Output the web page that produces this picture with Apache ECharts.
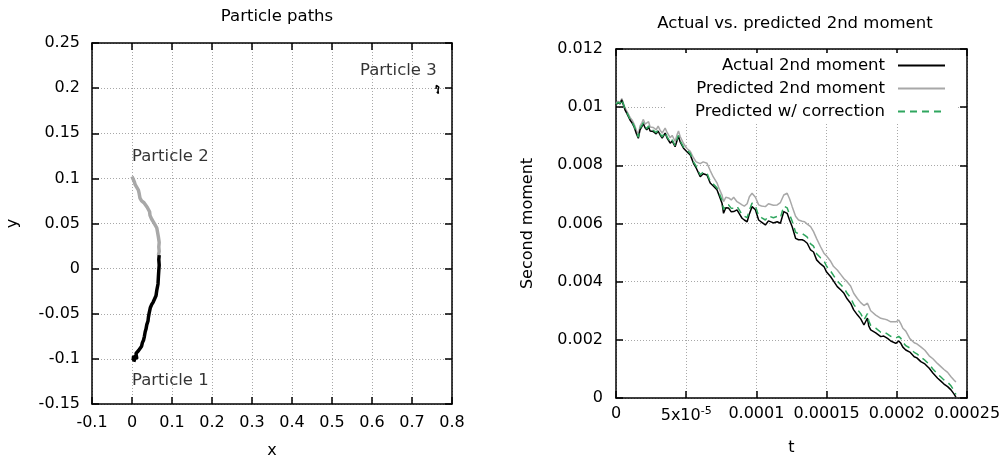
<!DOCTYPE html>
<html>
<head>
<meta charset="utf-8">
<script src="https://cdn.jsdelivr.net/npm/echarts@6/dist/echarts.min.js"></script>
<style>
html,body{margin:0;padding:0;background:#fff;}
#main{width:1007px;height:460px;}
</style>
</head>
<body>
<div id="main"></div>
<script>
// particle paths (left)
var p1x = [0.010,0.003,0.004,0.002,0.008,0.012,0.010,0.016,0.020,0.024,0.026,0.029,0.031,0.033,0.035,0.037,0.040,0.041,0.043,0.046,0.049,0.053,0.057,0.060,0.062,0.065,0.066,0.067,0.068,0.067,0.068];
var p1y = [-0.102,-0.101,-0.097,-0.099,-0.096,-0.100,-0.094,-0.091,-0.090,-0.086,-0.082,-0.079,-0.075,-0.070,-0.067,-0.062,-0.058,-0.054,-0.049,-0.043,-0.040,-0.037,-0.035,-0.030,-0.024,-0.017,-0.009,-0.002,0.004,0.010,0.015];
var p2x = [0.000,0.003,0.006,0.008,0.012,0.016,0.018,0.020,0.024,0.030,0.033,0.038,0.041,0.044,0.045,0.049,0.053,0.057,0.062,0.064,0.066,0.068,0.067,0.068,0.066];
var p2y = [0.102,0.099,0.096,0.093,0.090,0.087,0.083,0.078,0.075,0.073,0.071,0.068,0.066,0.063,0.059,0.055,0.052,0.049,0.045,0.040,0.035,0.029,0.024,0.019,0.015];
var p3x = [0.760,0.763,0.761,0.765,0.767,0.765,0.769,0.766,0.762];
var p3y = [0.199,0.197,0.203,0.205,0.201,0.198,0.196,0.194,0.196];
var labelNames = ['Particle 1','Particle 2','Particle 3'];
var labelX = [0.0, 0.0, 0.57];
var labelY = [-0.1246, 0.1237, 0.219];

// second moment (right), t in units of 1e-6
var tUs = [0,1.4,2.9,4.1,5.2,6.4,7.9,10,11.4,12.9,
  14.6,15.9,17.1,18.4,19.5,20.7,21.9,23.2,24.3,26.6,
  28.6,30,31.4,32.9,35,36.4,38.6,40,42.1,43.6,
  44.5,45.7,48.1,50.5,52.9,55.2,57.1,60,62.1,64.8,
  67.1,69.3,71.9,73.6,75.5,76.6,78.2,80.2,82.1,83.8,
  86.2,87.9,89.8,91.4,93.4,95,96.9,99.3,101.6,103.6,
  106.4,108.6,110,112.1,114.8,117.1,119.5,121.9,123.6,125.5,
  127.9,130,132.6,134.3,136.2,138.6,140.7,142.9,145.7,148.1,
  150,152.9,155,157.6,160,162.4,164.6,167.1,169.3,171.9,
  174.3,176.6,179.1,180,181.4,185,188.6,190.7,193.4,195.7,
  199.3,201.4,202.9,204.3,206.4,209.3,212.4,214.3,217.1,220,
  223.1,225.7,229.1,231.4,233.6,236.2,238.6,240.7,242.1];
var actual = [0.01008,0.01015,0.01011,0.01025,0.01022,0.00991,0.00977,0.00956,0.00946,0.00932,
  0.00908,0.00893,0.00922,0.00933,0.00943,0.00929,0.00922,0.00932,0.00918,0.00916,
  0.00908,0.00918,0.00905,0.00894,0.00911,0.00894,0.00876,0.00884,0.00864,0.00887,
  0.00899,0.00881,0.00859,0.00847,0.00836,0.00807,0.00791,0.00761,0.00771,0.00767,
  0.00739,0.00729,0.00716,0.00695,0.0067,0.00635,0.00654,0.00653,0.0064,0.00641,
  0.00647,0.00633,0.00618,0.00612,0.00606,0.00633,0.00658,0.00647,0.00612,0.00605,
  0.00595,0.00609,0.00606,0.00602,0.00606,0.00601,0.00641,0.00635,0.00612,0.00589,
  0.00549,0.00544,0.00544,0.0054,0.00532,0.00509,0.00502,0.00475,0.00461,0.00452,
  0.00433,0.00417,0.00402,0.00383,0.00372,0.0036,0.00341,0.00326,0.00303,0.00286,
  0.00272,0.00251,0.00275,0.00248,0.00234,0.00224,0.00211,0.00213,0.00205,0.00196,
  0.00188,0.00196,0.00188,0.00175,0.00165,0.00158,0.00142,0.00138,0.00125,0.00117,
  0.00102,0.00086,0.00068,0.00058,0.00048,0.00039,0.00028,0.00014,0.00003];
var predicted = [0.01012,0.01020,0.01016,0.01030,0.01026,0.00998,0.00985,0.00965,0.00956,0.00942,
  0.00920,0.00906,0.00935,0.00946,0.00958,0.00942,0.00937,0.00950,0.00932,0.00930,
  0.00922,0.00935,0.00921,0.00911,0.00928,0.00913,0.00895,0.00903,0.00882,0.00907,
  0.00918,0.00899,0.00875,0.00858,0.00848,0.00826,0.00812,0.00806,0.00812,0.00807,
  0.00782,0.00760,0.00740,0.00718,0.00698,0.00675,0.00690,0.00688,0.00681,0.00690,
  0.00675,0.00670,0.00664,0.00660,0.00668,0.00692,0.00704,0.00690,0.00664,0.00660,
  0.00658,0.00668,0.00670,0.00663,0.00664,0.00672,0.00698,0.00704,0.00685,0.00658,
  0.00625,0.00612,0.00608,0.00606,0.00598,0.00589,0.00572,0.00548,0.00520,0.00498,
  0.00488,0.00470,0.00452,0.00440,0.00425,0.00410,0.00400,0.00385,0.00360,0.00342,
  0.00328,0.00318,0.00326,0.00316,0.00300,0.00285,0.00274,0.00272,0.00268,0.00262,
  0.00262,0.00268,0.00255,0.00240,0.00230,0.00204,0.00190,0.00186,0.00176,0.00164,
  0.00145,0.00135,0.00118,0.00108,0.00098,0.00088,0.00073,0.00062,0.00055];
var corrected = [0.01010,0.01017,0.01013,0.01027,0.01024,0.00994,0.00980,0.00959,0.00949,0.00935,
  0.00912,0.00897,0.00926,0.00937,0.00947,0.00933,0.00926,0.00936,0.00922,0.00920,
  0.00912,0.00922,0.00909,0.00898,0.00915,0.00898,0.00880,0.00888,0.00868,0.00891,
  0.00903,0.00885,0.00863,0.00852,0.00841,0.00812,0.00797,0.00767,0.00777,0.00773,
  0.00745,0.00736,0.00723,0.00703,0.00680,0.00648,0.00665,0.00664,0.00652,0.00653,
  0.00659,0.00646,0.00630,0.00625,0.00620,0.00646,0.00670,0.00660,0.00626,0.00620,
  0.00612,0.00626,0.00624,0.00620,0.00624,0.00620,0.00660,0.00654,0.00631,0.00608,
  0.00570,0.00565,0.00565,0.00560,0.00553,0.00530,0.00522,0.00496,0.00482,0.00472,
  0.00453,0.00436,0.00421,0.00402,0.00390,0.00378,0.00360,0.00345,0.00322,0.00305,
  0.00290,0.00268,0.00290,0.00265,0.00250,0.00240,0.00226,0.00228,0.00220,0.00212,
  0.00206,0.00212,0.00205,0.00192,0.00180,0.00172,0.00157,0.00152,0.00140,0.00130,
  0.00116,0.00100,0.00082,0.00072,0.00062,0.00054,0.00042,0.00026,0.00012];

var tLabels = ['0','5x10{sup|-5}','0.0001','0.00015','0.0002','0.00025'];
var m2Labels = ['0','0.002','0.004','0.006','0.008','0.01','0.012'];
var seriesNames = ['Actual 2nd moment','Predicted 2nd moment','Predicted w/ correction'];

function zip(a,b){
    var out = [];
    for(var i=0;i<a.length;i++){ out.push([a[i],b[i]]); }
    return out;
}

var FONT = 'DejaVu Sans';
var txt = {color:'#000',fontFamily:FONT,fontSize:16};
var frame = {show:true,onZero:false,lineStyle:{color:'#000',width:1.5}};
var tick = {show:true,inside:true,length:7,lineStyle:{color:'#000',width:1.5}};
var grid = {show:true,lineStyle:{color:'#a8a8a8',width:1,type:[1,2]}};

var chart = echarts.init(document.getElementById('main'));
var option = {
    backgroundColor:'#fff',
    animation:false,
    title:[
        {text:'Particle paths',left:272,top:3,textAlign:'center',textStyle:{color:'#000',fontFamily:FONT,fontSize:16.5,fontWeight:'normal'}},
        {text:'Actual vs. predicted 2nd moment',left:790,top:10,textAlign:'center',textStyle:{color:'#000',fontFamily:FONT,fontSize:16.5,fontWeight:'normal'}}
    ],
    grid:[
        {left:92,top:43,width:360,height:361,outerBoundsMode:'none'},
        {left:616,top:49,width:351,height:349,outerBoundsMode:'none'}
    ],
    legend:{
        data:seriesNames,
        orient:'vertical',
        right:51,
        top:53,
        align:'right',
        itemWidth:47,
        itemHeight:14,
        itemGap:6,
        padding:[4,10,4,30],
        backgroundColor:'#fff',
        itemStyle:{opacity:0},
        textStyle:{color:'#000',fontFamily:FONT,fontSize:16.5,padding:[0,8,0,0]},
        selectedMode:false
    },
    xAxis:[
        {gridIndex:0,type:'value',min:-0.1,max:0.8,interval:0.1,
         name:'x',nameLocation:'middle',nameGap:39,nameTextStyle:txt,
         axisLine:frame,axisTick:tick,splitLine:grid,
         axisLabel:{margin:11,color:'#000',fontFamily:FONT,fontSize:16}},
        {gridIndex:0,type:'value',min:-0.1,max:0.8,interval:0.1,position:'top',
         axisLine:frame,axisTick:tick,splitLine:{show:false},axisLabel:{show:false}},
        {gridIndex:1,type:'value',min:0,max:250,interval:50,
         name:'t',nameLocation:'middle',nameGap:42,nameTextStyle:txt,
         axisLine:frame,axisTick:tick,splitLine:grid,
         axisLabel:{margin:8,color:'#000',fontFamily:FONT,fontSize:16,
            formatter:function(v){ return tLabels[Math.round(v/50)]; },
            rich:{sup:{fontSize:11,fontFamily:FONT,color:'#000',padding:[0,0,9,0]}}}},
        {gridIndex:1,type:'value',min:0,max:250,interval:50,position:'top',
         axisLine:frame,axisTick:tick,splitLine:{show:false},axisLabel:{show:false}}
    ],
    yAxis:[
        {gridIndex:0,type:'value',min:-0.15,max:0.25,interval:0.05,
         name:'y',nameLocation:'middle',nameGap:71,nameTextStyle:txt,
         axisLine:frame,axisTick:tick,splitLine:grid,
         axisLabel:{margin:12,color:'#000',fontFamily:FONT,fontSize:16}},
        {gridIndex:0,type:'value',min:-0.15,max:0.25,interval:0.05,position:'right',
         axisLine:frame,axisTick:tick,splitLine:{show:false},axisLabel:{show:false}},
        {gridIndex:1,type:'value',min:0,max:0.012,interval:0.002,
         name:'Second moment',nameLocation:'middle',nameGap:80,nameTextStyle:txt,
         axisLine:frame,axisTick:tick,splitLine:grid,
         axisLabel:{margin:13,color:'#000',fontFamily:FONT,fontSize:16,
            formatter:function(v){ return m2Labels[Math.round(v/0.002)]; }}},
        {gridIndex:1,type:'value',min:0,max:0.012,interval:0.002,position:'right',
         axisLine:frame,axisTick:tick,splitLine:{show:false},axisLabel:{show:false}}
    ],
    series:[
        {name:'p2',type:'line',xAxisIndex:0,yAxisIndex:0,data:zip(p2x,p2y),symbol:'none',
         lineStyle:{color:'#a8a8a8',width:3.5},silent:true},
        {name:'p1',type:'line',xAxisIndex:0,yAxisIndex:0,data:zip(p1x,p1y),symbol:'none',
         lineStyle:{color:'#000',width:3.5},silent:true},
        {name:'p3',type:'line',xAxisIndex:0,yAxisIndex:0,data:zip(p3x,p3y),symbol:'none',
         lineStyle:{color:'#000',width:1.5},silent:true},
        {name:'labels',type:'scatter',xAxisIndex:0,yAxisIndex:0,symbolSize:0,silent:true,
         data:zip(labelX,labelY),
         label:{show:true,position:'right',distance:0,color:'#000',fontFamily:FONT,fontSize:16.5,
            formatter:function(p){ return labelNames[p.dataIndex]; }}},
        {name:seriesNames[1],type:'line',xAxisIndex:2,yAxisIndex:2,data:zip(tUs,predicted),symbol:'none',
         itemStyle:{color:'#a8a8a8'},lineStyle:{color:'#a8a8a8',width:1.5},silent:true},
        {name:seriesNames[0],type:'line',xAxisIndex:2,yAxisIndex:2,data:zip(tUs,actual),symbol:'none',
         itemStyle:{color:'#000'},lineStyle:{color:'#000',width:1.5},silent:true},
        {name:seriesNames[2],type:'line',xAxisIndex:2,yAxisIndex:2,data:zip(tUs,corrected),symbol:'none',
         itemStyle:{color:'#2fa65e'},lineStyle:{color:'#2fa65e',width:1.5,type:[7,5]},silent:true}
    ]
};
chart.setOption(option);
</script>
</body>
</html>
